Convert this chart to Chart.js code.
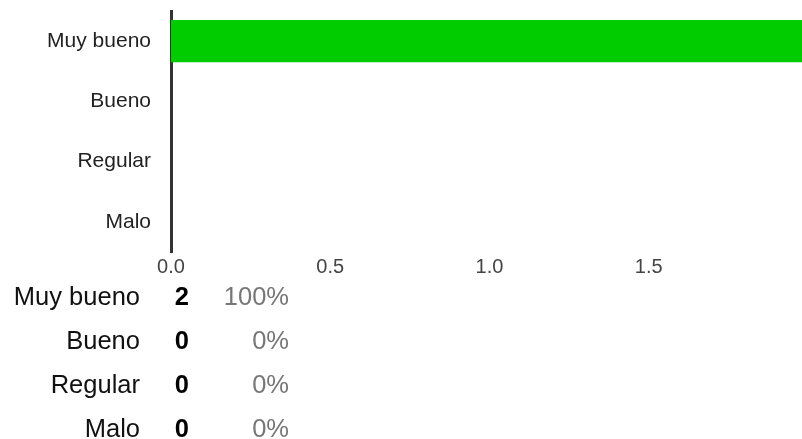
<!DOCTYPE html>
<html>
<head>
<meta charset="utf-8">
<script src="https://cdn.jsdelivr.net/npm/chart.js@4/dist/chart.umd.min.js"></script>
<style>
  html, body { margin: 0; padding: 0; background: #fff; }
  body { width: 802px; height: 439px; overflow: hidden; position: relative; font-family: "Liberation Sans", Arial, sans-serif; }
  #wrap { position: absolute; left: 0; top: 0; width: 802px; height: 282px; overflow: hidden; }
  #c { display: block; }
  #tbl { position: absolute; left: 0; top: 274px; width: 400px; }
  .row { position: relative; height: 44px; line-height: 44px; font-size: 25.5px; }
  .row span { position: absolute; top: 0; white-space: nowrap; }
  .lab { right: 260px; color: #111; }
  .num { left: 150px; width: 39px; text-align: right; font-weight: bold; color: #000; }
  .pct { left: 200px; width: 89px; text-align: right; color: #777; }
</style>
</head>
<body>
<div id="wrap"><canvas id="c" width="808" height="282" style="width:808px;height:282px"></canvas></div>
<div id="tbl"></div>
<script>
const categories = ["Muy bueno", "Bueno", "Regular", "Malo"];
const values = [2, 0, 0, 0];
const xTickLabels = [0, 0.5, 1.0, 1.5];
const xMax = 2;

const FONT = '"Liberation Sans", Arial, sans-serif';

new Chart(document.getElementById('c'), {
  type: 'bar',
  data: {
    labels: categories,
    datasets: [{
      data: values,
      backgroundColor: '#00cc00',
      borderWidth: 0,
      barPercentage: 0.7,
      categoryPercentage: 1.0
    }]
  },
  options: {
    indexAxis: 'y',
    responsive: false,
    animation: false,
    layout: { padding: { top: 11, left: 0, right: 0, bottom: 0 } },
    plugins: { legend: { display: false }, tooltip: { enabled: false } },
    scales: {
      x: {
        min: 0,
        max: xMax,
        afterBuildTicks(scale) { scale.ticks = xTickLabels.map(v => ({ value: v })); },
        afterFit(scale) { scale.height = 30; scale.paddingLeft = 0; scale.paddingRight = 0; },
        grid: { display: false, drawTicks: false },
        border: { display: false },
        ticks: {
          padding: 3,
          color: '#444',
          font: { family: FONT, size: 20 },
          callback: v => Number(v).toFixed(1),
          maxRotation: 0,
          autoSkip: false
        }
      },
      y: {
        afterFit(scale) { scale.width = 171; scale.paddingTop = 0; scale.paddingBottom = 0; },
        grid: { display: false, drawTicks: false },
        border: { display: true, color: '#333', width: 3 },
        ticks: {
          padding: 20,
          color: '#222',
          font: { family: FONT, size: 21 }
        }
      }
    }
  }
});

const total = values.reduce((a, b) => a + b, 0);
const tbl = document.getElementById('tbl');
categories.forEach((c, i) => {
  const row = document.createElement('div');
  row.className = 'row';
  const pct = total ? Math.round(values[i] / total * 100) : 0;
  row.innerHTML = '<span class="lab"></span><span class="num"></span><span class="pct"></span>';
  row.children[0].textContent = c;
  row.children[1].textContent = values[i];
  row.children[2].textContent = pct + '%';
  tbl.appendChild(row);
});
</script>
</body>
</html>
